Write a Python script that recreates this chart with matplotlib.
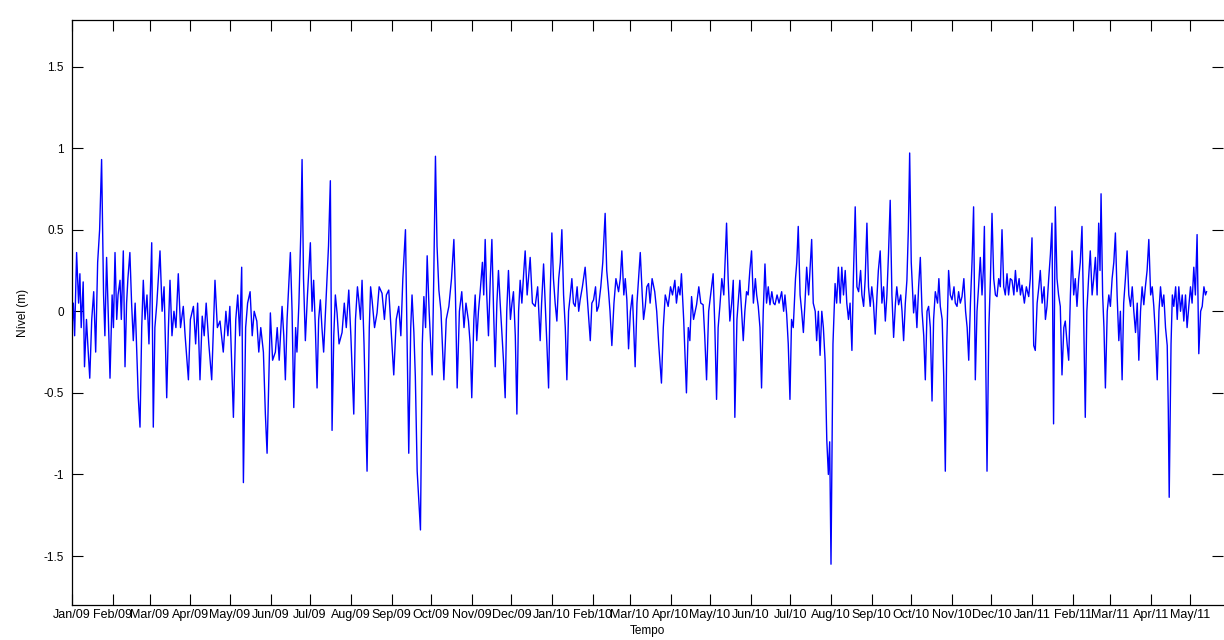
import pandas as pd
import matplotlib
matplotlib.use('Agg')
import matplotlib.pyplot as plt
import matplotlib.dates as mdates

plt.rcParams['font.family'] = ['Liberation Sans', 'DejaVu Sans']

# dias desde 01/01/2009 e nivel (m)
inicio = pd.Timestamp('2009-01-01')

dias_a = [0, 1, 2, 3.5, 5, 6, 7, 8.5, 9.5, 11, 12, 13.5, 15, 16.5, 18, 19.5, 21, 22.5, 24, 25,
          26.3, 27.5, 28.9, 30.5, 31.5, 32.7, 34, 35, 36.5, 37.5, 39, 40.3, 41.5, 42.5, 44, 45.3,
          46.6, 48, 49, 50.4, 51.7, 53, 54.2, 55.5, 57, 58.5, 60.6, 61.8, 63, 64.5, 66.9, 68.5,
          70, 72, 73.3, 74.5, 76, 77.5, 79, 80.8, 82.5, 84.6, 86, 88.5, 90, 92.3, 94, 95.5, 97.3,
          99, 100.5, 102, 104, 106.2, 108.7, 110.5, 112.5, 115, 117, 118.5, 120, 122.7, 124.5,
          126, 127.5, 129, 130.3, 132, 133.5, 135.4, 137, 138.5, 140.5, 142, 143.5, 145.5]
nivel_a = [-0.10, 0.05, -0.15, 0.36, 0.05, 0.23, -0.10, 0.18, -0.34, -0.05, -0.20, -0.41, -0.05, 0.12, -0.25, 0.30, 0.50, 0.93, 0.10, -0.15,
           0.33, 0.00, -0.41, 0.10, -0.10, 0.36, -0.05, 0.10, 0.19, -0.05, 0.37, -0.34, 0.05, 0.20, 0.36, 0.05,
           -0.18, 0.05, -0.20, -0.53, -0.71, -0.10, 0.19, -0.05, 0.10, -0.20, 0.42, -0.71, -0.10, 0.05, 0.37, 0.00,
           0.15, -0.53, -0.10, 0.19, -0.15, 0.00, -0.10, 0.23, -0.10, 0.03, -0.15, -0.42, -0.05, 0.03, -0.20, 0.05, -0.42,
           -0.03, -0.15, 0.05, -0.20, -0.42, 0.19, -0.10, -0.06, -0.25, 0.00, -0.15, 0.03, -0.65, -0.05,
           0.10, -0.15, 0.27, -1.05, -0.10, 0.05, 0.12, -0.15, 0.00, -0.06, -0.25, -0.10, -0.25]

dias_b = [147, 148.3, 150.8, 152.5, 154.6, 156, 157.5, 159.7, 161, 162.2, 163.5, 165, 166, 167.3, 168.6,
          170, 171, 172.5, 174, 174.9, 176, 177.4, 179, 180, 181.2, 182.5, 183.7, 185, 186.3, 187.5,
          188.8, 190, 191.3, 193, 195, 196.4, 197.7, 199, 200.2, 201.5, 203, 205.3, 207, 208.5, 210.4,
          212, 214.2, 215.5, 217, 218, 219.3, 220.5, 222, 224.3, 226, 227, 228.1, 230, 231.9, 233.5,
          235.7, 237.5, 239, 240.8, 242.5, 244.6, 246.5, 248.4, 250, 251.5, 253.5, 256, 257.5, 258.5,
          259.9, 261, 262.4, 264.9, 266.3, 267.5, 268.8, 270, 271.5, 273.8, 275, 276.3, 277.5, 278.9,
          280.5, 282.7, 284.5, 286.5, 288.5, 290.3, 291.5]
nivel_b = [-0.63, -0.87, -0.01, -0.30, -0.25, -0.10, -0.30, 0.03, -0.15, -0.42, -0.05, 0.20, 0.36, 0.00, -0.59,
           -0.10, -0.25, 0.05, 0.50, 0.93, 0.20, -0.18, 0.10, 0.25, 0.42, 0.00, 0.19, -0.10, -0.47, -0.05,
           0.07, -0.10, -0.25, 0.05, 0.40, 0.80, -0.73, -0.15, 0.10, -0.01, -0.20, -0.13, 0.05, -0.10, 0.13,
           -0.15, -0.63, -0.05, 0.15, 0.07, -0.05, 0.19, -0.20, -0.98, -0.10, 0.15, 0.07, -0.10, -0.01, 0.15,
           0.11, -0.05, 0.10, 0.13, -0.10, -0.39, -0.05, 0.03, -0.15, 0.20, 0.50, -0.87, -0.10, 0.10,
           -0.13, -0.40, -0.98, -1.34, -0.20, 0.09, -0.10, 0.34, 0.00, -0.39, 0.20, 0.95, 0.40, 0.13,
           0.00, -0.42, -0.05, 0.03, 0.20, 0.44, 0.10]

dias_c = [292.8, 294.5, 296.3, 298, 299.5, 301.4, 302.7, 303.9, 305.5, 306.5, 307.7, 309, 310.3, 312, 313,
          314.1, 315.3, 316.6, 318, 319.2, 320.5, 321.7, 323, 324.2, 325.5, 326.8, 328, 329.3, 330.5, 331.8,
          333.3, 334.5, 335.6, 337, 338.2, 339.5, 340.7, 342, 343.5, 344.5, 346, 347, 348.3, 350, 352.1,
          354, 355.9, 357, 358.5, 360, 361, 362.3, 363.5, 364.8, 366, 367.3, 368.6, 370, 371.2, 372.4,
          373.7, 375, 376.2, 377.5, 378.7, 380, 381.2, 382.5, 384, 385.2, 386.3, 388, 390.1, 392, 394,
          395.2, 396.5, 398, 399, 400.3, 402, 403.5, 405.3, 406.5, 407.9, 409, 410.4, 412, 413.5, 415.5,
          416.8, 418, 419.5, 420.6, 421.8, 423.1, 424.5, 426, 427, 428.1, 429.5, 430.7, 432, 433.5, 434.5,
          435.8]
nivel_c = [-0.47, 0.00, 0.12, -0.10, 0.05, -0.06, -0.20, -0.53, -0.05, 0.10, -0.18, 0.00, 0.12, 0.30, 0.10,
           0.44, 0.10, -0.15, 0.20, 0.44, 0.00, -0.34, 0.05, 0.25, 0.05, -0.13, -0.30, -0.53, 0.00, 0.25,
           -0.05, 0.05, 0.12, -0.15, -0.63, 0.00, 0.19, 0.05, 0.25, 0.37, 0.10, 0.20, 0.33, 0.05, 0.03,
           0.15, -0.18, 0.05, 0.29, 0.00, -0.20, -0.47, 0.10, 0.48, 0.20, 0.05, -0.06, 0.20, 0.30, 0.50,
           0.10, -0.10, -0.42, 0.00, 0.09, 0.20, 0.05, 0.03, 0.15, 0.00, 0.07, 0.15, 0.27, 0.05, -0.18,
           0.05, 0.07, 0.15, 0.00, 0.03, 0.15, 0.30, 0.60, 0.25, 0.12, 0.00, -0.21, 0.05, 0.20, 0.12,
           0.20, 0.37, 0.10, 0.20, 0.07, -0.23, 0.00, 0.10, -0.10, -0.34, 0.05, 0.20, 0.36, 0.10, -0.05,
           0.03]

dias_d = [437, 438.3, 439.5, 441, 443, 444.5, 446, 448.1, 449.5, 451, 453.2, 455, 456.5, 458.3, 459.5,
          461, 462.2, 463.3, 465, 467.1, 468.5, 469.7, 471, 472.5, 474.8, 476.5, 478, 479.8, 481, 482.4,
          484, 485.5, 487.4, 488.7, 490, 491.2, 492.5, 494, 495.5, 497.6, 498.8, 500.1, 501.5, 502.7, 503.9,
          505.5, 507.7, 509, 510.3, 511.5, 512.8, 514, 515.3, 516.6, 518, 519.5, 520.5, 521.7, 523, 524.2,
          525.5, 526.8, 528, 529.3, 530.6, 532, 533.3, 534.4, 536, 537.5, 539.5, 541, 542, 543.3, 544.5,
          545.8, 547, 548.3, 550, 551, 552.1, 553.5, 554.7, 556, 557.2, 558.5, 560, 561, 562.3, 563.5,
          565, 566.1, 567.4, 568.7, 570, 571.2, 572.5, 573.8, 575, 576, 577, 578.5, 580.1, 581.3, 582.6,
          584, 585.2]
nivel_d = [0.15, 0.17, 0.05, 0.20, 0.12, 0.00, -0.20, -0.44, -0.10, 0.10, 0.03, 0.15, 0.10, 0.19, 0.05,
           0.15, 0.10, 0.23, -0.05, -0.50, -0.10, -0.18, 0.09, -0.05, 0.04, 0.15, 0.05, 0.04, -0.15, -0.42,
           0.00, 0.10, 0.23, -0.10, -0.54, -0.10, 0.03, 0.20, 0.10, 0.54, 0.20, -0.06, 0.05, 0.19, -0.65,
           -0.05, 0.19, 0.00, -0.18, 0.00, 0.12, 0.10, 0.25, 0.37, 0.05, 0.20, 0.10, 0.03, -0.10, -0.47,
           0.00, 0.29, 0.05, 0.15, 0.04, 0.12, 0.05, 0.04, 0.10, 0.05, 0.12, 0.00, 0.10, -0.02, -0.20,
           -0.54, -0.05, -0.10, 0.20, 0.30, 0.52, 0.10, 0.00, -0.13, 0.05, 0.27, 0.10, 0.25, 0.44, 0.05,
           0.00, -0.18, 0.00, -0.27, 0.00, -0.10, -0.30, -0.79, -1.00, -0.80, -1.55, -0.20, 0.17, 0.05, 0.27,
           0.05, 0.27]

dias_e = [586.5, 587.8, 589, 590.3, 591.5, 592.9, 594, 595.4, 596.7, 598, 599.5, 600.5, 601.8, 603, 604.3,
          605.5, 606.8, 608, 609.3, 610.6, 612, 613, 614.4, 615.7, 617, 618.3, 619.5, 620.7, 622, 623.3,
          624.6, 626, 627, 628.4, 630, 631, 632.2, 633.5, 634.7, 635.8, 636.8, 638, 639.8, 641, 642.3,
          643.6, 644.9, 646.2, 647.5, 648.7, 650, 651.2, 652.5, 653.8, 655, 656.3, 658, 659, 660.1, 661.5,
          662.7, 663.9, 665, 666.4, 667.7, 669, 670.5, 671.5, 672.8, 674, 675.3, 676.6, 678, 679.3, 680.5,
          681.7, 683, 684.2, 685.4, 686.7, 688, 689.2, 690.5, 691.8, 692.8, 693.6, 694.5, 695.6, 697, 698.2,
          699.4, 700.7, 702, 703.2, 704.5, 705.7, 707, 708.3, 709.5, 710.8, 712, 713.3, 714.6, 716, 717.2,
          718.4, 720, 721, 722.2, 724, 725.5, 727.3, 728.5, 729.8]
nivel_e = [0.10, 0.25, 0.05, -0.05, 0.05, -0.24, 0.20, 0.64, 0.15, 0.12, 0.25, 0.10, 0.03, 0.20, 0.54,
           0.15, 0.03, 0.15, 0.05, -0.14, 0.10, 0.25, 0.37, 0.05, 0.15, -0.06, 0.10, 0.35, 0.68, 0.10,
           -0.16, 0.05, 0.15, 0.04, 0.10, 0.00, -0.18, 0.05, 0.19, 0.50, 0.97, 0.30, -0.01, 0.10, -0.10,
           0.15, 0.33, 0.00, -0.15, -0.42, 0.00, 0.03, -0.10, -0.55, -0.05, 0.12, 0.05, 0.20, 0.03, -0.05,
           -0.40, -0.98, -0.20, 0.25, 0.10, 0.07, 0.15, 0.05, 0.03, 0.12, 0.05, 0.09, 0.20, 0.00, -0.10,
           -0.30, 0.05, 0.30, 0.64, -0.42, 0.00, 0.15, 0.33, 0.10, 0.25, 0.52, -0.20, -0.98, -0.10, 0.20,
           0.60, 0.20, 0.10, 0.09, 0.20, 0.15, 0.50, 0.15, 0.10, 0.23, 0.10, 0.20, 0.19, 0.10, 0.25,
           0.12, 0.20, 0.10, 0.16, 0.05, 0.15, 0.09, 0.20, 0.45]

dias_f = [731.1, 732.3, 733.7, 735, 736.1, 737.5, 739, 740, 741.2, 742.5, 743.8, 745, 746.2, 747.5, 748.8,
          750, 751.3, 752.6, 754, 755.1, 756.5, 757.7, 759, 760.2, 761.5, 762.7, 764, 765.3, 766.5, 767.8,
          769, 770.3, 771.5, 772.8, 774.1, 775.5, 776.7, 778, 779.3, 780.5, 781.5, 782.3, 783.5, 784.5, 785.6,
          787, 788.2, 789.4, 790.7, 792, 793.2, 794.5, 795.8, 797, 798.3, 799.5, 800.8, 802.1, 803.4, 804.7,
          806, 807.2, 808.5, 809.8, 811, 812.3, 813.5, 814.8, 816, 817.3, 818.6, 820, 821.2, 822.4, 823.7,
          825, 826.3, 827.5, 828.8, 830, 831.3, 832.6, 833.4, 834.1, 835.5, 836.5, 837.6, 839, 840.2, 841.4,
          842.7, 844, 845.2, 846.5, 847.7, 849, 850.3, 851.5, 852.8, 854, 855.3, 856.6, 858, 859.2, 860.5,
          861.7, 862.5]
nivel_f = [-0.21, -0.24, 0.05, 0.15, 0.25, 0.05, 0.15, -0.05, 0.03, 0.20, 0.35, 0.54, -0.69, 0.64, 0.20,
           0.10, 0.03, -0.39, -0.10, -0.06, -0.20, -0.30, 0.10, 0.37, 0.10, 0.20, 0.03, 0.20, 0.30, 0.52,
           0.00, -0.65, 0.00, 0.20, 0.37, 0.10, 0.20, 0.33, 0.10, 0.54, 0.25, 0.72, 0.10, -0.10, -0.47,
           0.00, 0.10, 0.03, 0.20, 0.30, 0.48, 0.10, -0.18, 0.00, -0.42, 0.05, 0.20, 0.37, 0.10, 0.03,
           0.15, 0.00, -0.13, 0.05, -0.30, 0.00, 0.15, 0.04, 0.15, 0.25, 0.44, 0.10, 0.15, 0.03, -0.15,
           -0.42, 0.00, 0.15, 0.03, 0.10, -0.10, -0.21, -0.60, -1.14, -0.20, 0.10, 0.03, 0.15, -0.05, 0.15,
           0.00, 0.10, -0.06, 0.10, -0.10, 0.03, 0.15, 0.05, 0.27, 0.10, 0.47, -0.26, 0.00, 0.03, 0.15,
           0.10, 0.12]

segmentos = [(dias_a, nivel_a), (dias_b, nivel_b), (dias_c, nivel_c),
             (dias_d, nivel_d), (dias_e, nivel_e), (dias_f, nivel_f)]
dias, nivel = [], []
for i, (d, n) in enumerate(segmentos):
    assert len(d) == len(n), (i, len(d), len(n))
    dias += d
    nivel += n

tempo = inicio + pd.to_timedelta(dias, unit='D')

yticks = [-1.5, -1, -0.5, 0, 0.5, 1, 1.5]
ylabels = ['-1.5', '-1', '-0.5', '0', '0.5', '1', '1.5']

fig = plt.figure(figsize=(12.24, 6.4), dpi=100)
ax = fig.add_axes([72 / 1224, 35 / 640, (1223 - 72) / 1224, (605 - 20) / 640])
ax.plot(tempo, nivel, color='b', linewidth=1.0)

ax.set_xlim(inicio, inicio + pd.Timedelta(days=875))
ax.set_ylim(-1.8, 1.785)
ax.set_yticks(yticks)
ax.set_yticklabels(ylabels)
ax.xaxis.set_major_locator(mdates.MonthLocator())
ax.xaxis.set_major_formatter(mdates.DateFormatter('%b/%y'))
ax.tick_params(direction='in', top=True, right=True, length=8, width=0.8)
ax.tick_params(axis='x', pad=3, labelsize=9)
ax.tick_params(axis='y', pad=6, labelsize=8.5)
ax.spines['right'].set_visible(False)
for s in ['left', 'top', 'bottom']:
    ax.spines[s].set_linewidth(0.9)

ax.set_xlabel('Tempo', fontsize=8.5, labelpad=3)
ax.set_ylabel('Nível (m)', fontsize=8.5, labelpad=10)

fig.savefig('out.png', dpi=100)
